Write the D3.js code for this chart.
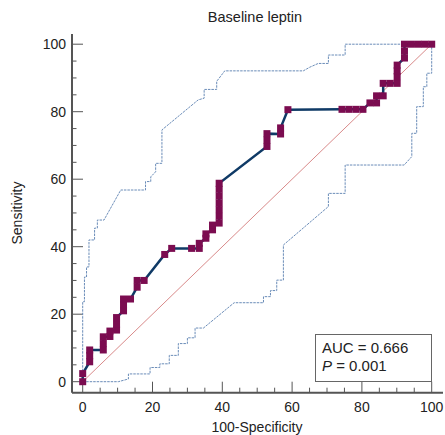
<!DOCTYPE html>
<html>
<head>
<meta charset="utf-8">
<script src="https://cdn.jsdelivr.net/npm/d3@7"></script>
<style>
  html, body { margin: 0; padding: 0; background: #fff; }
  svg { display: block; font-family: "Liberation Sans", Arial, sans-serif; }
</style>
</head>
<body>
<svg id="chart" width="445" height="435"></svg>
<script>
// ROC curve points [100-Specificity, Sensitivity]
const roc_points = [
  [0, 0], [0, 2.4],
  [2, 5.9], [2, 7.7], [2, 9.4],
  [5.9, 9.4], [5.9, 11.3], [5.9, 13.3],
  [7.8, 13.4], [7.8, 15],
  [9.7, 15.3], [9.7, 17], [9.7, 19],
  [11.7, 21], [11.7, 22.8], [11.7, 24.5],
  [13.7, 24.5],
  [15.6, 28], [15.6, 30],
  [17.6, 30],
  [23.5, 37.7],
  [25.5, 39.5],
  [31.2, 39.5],
  [33.4, 39.5], [33.4, 41],
  [35.3, 42.5], [35.3, 43.8],
  [37.2, 45], [37.2, 46.4],
  [39.1, 47], [39.1, 49], [39.1, 51], [39.1, 53], [39.1, 55], [39.1, 57], [39.1, 58.8],
  [52.8, 69.7], [52.8, 71.6], [52.8, 73.5],
  [56.7, 73.4], [56.7, 75.2],
  [58.8, 80.6],
  [74.3, 80.7], [76.3, 80.7], [78.3, 80.7], [80.3, 80.7],
  [82.3, 82.6], [84.2, 82.6], [84.2, 84.7], [86.1, 84.7],
  [86.1, 88.4], [88.1, 88.4], [90.1, 88.4],
  [90.1, 90.4], [90.1, 92.1], [90.1, 93.8],
  [92.2, 95.9], [92.2, 97.9], [92.2, 100],
  [94.2, 100], [96.2, 100], [98.1, 100], [100, 100]
];

// 95% confidence bounds
const upper_bound = [
  [0, 0], [0, 23.7], [0.5, 23.7], [0.5, 31], [1.1, 31], [1.1, 34], [1.8, 34], [1.8, 42],
  [3.4, 42], [3.4, 45.5], [4.2, 45.5], [4.2, 47.9], [6.1, 47.9], [10.9, 56.8], [18, 56.8],
  [18, 59.3], [19.5, 59.3], [19.5, 60.7], [20.9, 62.2], [20.9, 64.7], [22.7, 64.7], [22.7, 74.6],
  [33.1, 83.5], [34.8, 84], [34.8, 86.6], [38.4, 86.6], [38.4, 89], [40.7, 92.1], [63.2, 92.1],
  [65.1, 93.2], [67.5, 94.3], [70.4, 94.3], [70.4, 96.8], [75.2, 96.8], [75.2, 100], [100, 100]
];
const lower_bound = [
  [0, 0], [10.2, 0], [13.1, 0.8], [13.1, 2.3], [19.3, 2.3], [19.3, 4.2], [22.1, 4.2], [22.1, 5.3],
  [24.8, 5.3], [24.8, 7.8], [27.4, 7.8], [27.4, 11.3], [30, 11.3], [30, 13], [32.2, 13], [32.2, 15.9],
  [34.6, 15.9], [43.4, 23.4], [51.8, 23.4], [51.8, 25.2], [53.8, 25.2], [53.8, 27], [55.6, 27],
  [55.6, 30.1], [57.5, 30.1], [57.5, 40.5], [70.4, 51.9], [70.4, 55.8], [75.2, 55.8], [75.2, 64.2],
  [92.1, 64.2], [94.3, 66.7], [94.3, 73.6], [95.7, 73.6], [95.7, 81.5], [97.6, 81.5], [97.6, 87.4],
  [98.6, 87.4], [98.6, 91.4], [100, 91.4], [100, 100]
];

const major_ticks = [0, 20, 40, 60, 80, 100];
const minor_ticks = d3.range(0, 101, 5);
const title_text = 'Baseline leptin';
const x_label = '100-Specificity';
const y_label = 'Sensitivity';
const auc_text = 'AUC = 0.666';
const p_value = '0.001';

const svg = d3.select('#chart');

const x = d3.scaleLinear().domain([0, 100]).range([82.7, 431.7]);
const y = d3.scaleLinear().domain([0, 100]).range([381.7, 44.2]);

const axis_x0 = 72;    // left axis line position
const axis_y0 = 392.7; // bottom axis line position
const axis_color = '#555';

// title
svg.append('text')
  .attr('x', 255).attr('y', 22)
  .attr('text-anchor', 'middle')
  .attr('font-size', 14.5).attr('fill', '#222')
  .text(title_text);

// y axis (ticks point inward)
const y_axis = svg.append('g').attr('transform', `translate(${axis_x0},0)`);
y_axis.append('line')
  .attr('x1', 0).attr('x2', 0).attr('y1', 34).attr('y2', axis_y0)
  .attr('stroke', axis_color).attr('stroke-width', 2);
y_axis.selectAll('line.minor').data(minor_ticks).enter().append('line')
  .attr('class', 'minor')
  .attr('x1', 0).attr('x2', d => d % 20 === 0 ? 11 : 4.5)
  .attr('y1', d => y(d)).attr('y2', d => y(d))
  .attr('stroke', axis_color).attr('stroke-width', 1);
y_axis.selectAll('text').data(major_ticks).enter().append('text')
  .attr('x', -6).attr('y', d => y(d) + 5)
  .attr('text-anchor', 'end')
  .attr('font-size', 14).attr('fill', '#222')
  .text(d => d);

// x axis (ticks point inward)
const x_axis = svg.append('g').attr('transform', `translate(0,${axis_y0})`);
x_axis.append('line')
  .attr('x1', axis_x0).attr('x2', 443).attr('y1', 0).attr('y2', 0)
  .attr('stroke', axis_color).attr('stroke-width', 2);
x_axis.selectAll('line.minor').data(minor_ticks).enter().append('line')
  .attr('class', 'minor')
  .attr('x1', d => x(d)).attr('x2', d => x(d))
  .attr('y1', 0).attr('y2', d => d % 20 === 0 ? -11 : -5)
  .attr('stroke', axis_color).attr('stroke-width', 1);
x_axis.selectAll('text').data(major_ticks).enter().append('text')
  .attr('x', d => x(d)).attr('y', 19)
  .attr('text-anchor', 'middle')
  .attr('font-size', 14).attr('fill', '#222')
  .text(d => d);

// axis titles
svg.append('text')
  .attr('x', 257).attr('y', 432)
  .attr('text-anchor', 'middle')
  .attr('font-size', 14).attr('fill', '#222')
  .text(x_label);
svg.append('text')
  .attr('transform', 'translate(22,213) rotate(-90)')
  .attr('text-anchor', 'middle')
  .attr('font-size', 14).attr('fill', '#222')
  .text(y_label);

const line = d3.line().x(d => x(d[0])).y(d => y(d[1]));

// reference diagonal
svg.append('path')
  .datum([[0, 0], [100, 100]])
  .attr('d', line)
  .attr('fill', 'none')
  .attr('stroke', '#d98a8a').attr('stroke-width', 1);

// confidence bounds
[upper_bound, lower_bound].forEach(b => {
  svg.append('path')
    .datum(b)
    .attr('d', line)
    .attr('fill', 'none')
    .attr('stroke', '#6a8cb8').attr('stroke-width', 1)
    .attr('stroke-dasharray', '2.5,1');
});

// ROC curve
svg.append('path')
  .datum(roc_points)
  .attr('d', line)
  .attr('fill', 'none')
  .attr('stroke', '#0f3a66').attr('stroke-width', 2.5);

const sq = 7;
svg.append('g').selectAll('rect').data(roc_points).enter().append('rect')
  .attr('x', d => x(d[0]) - sq / 2)
  .attr('y', d => y(d[1]) - sq / 2)
  .attr('width', sq).attr('height', sq)
  .attr('fill', '#7b0c50');

// AUC box
const box = svg.append('g');
box.append('rect')
  .attr('x', 315.5).attr('y', 334.5).attr('width', 116).attr('height', 47)
  .attr('fill', '#fff').attr('stroke', '#666').attr('stroke-width', 1);
box.append('text')
  .attr('x', 322).attr('y', 353)
  .attr('font-size', 15).attr('fill', '#222')
  .text(auc_text);
const p_line = box.append('text')
  .attr('x', 322).attr('y', 371)
  .attr('font-size', 15).attr('fill', '#222');
p_line.append('tspan').attr('font-style', 'italic').text('P');
p_line.append('tspan').text(' = ' + p_value);
</script>
</body>
</html>
